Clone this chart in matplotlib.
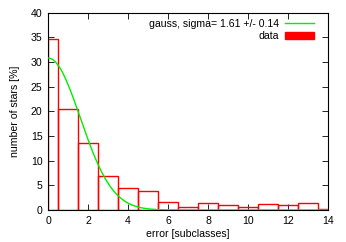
import numpy as np
import matplotlib
matplotlib.use("Agg")
import matplotlib.pyplot as plt
from matplotlib.lines import Line2D
from matplotlib.patches import Patch

# histogram of errors (bins centred on integers, width 1)
bin_centers = [0, 1, 2, 3, 4, 5, 6, 7, 8, 9, 10, 11, 12, 13, 14]
percent = [34.7, 20.5, 13.6, 6.8, 4.4, 3.8, 1.7, 0.55, 1.35, 1.1, 0.7, 1.2, 0.95, 1.35, 0.25]

# gaussian fit
gauss_amp = 30.8
gauss_sigma = 1.61
gauss_err = 0.14

x_ticks = [0, 2, 4, 6, 8, 10, 12, 14]
y_ticks = [0, 5, 10, 15, 20, 25, 30, 35, 40]

plt.rcParams['font.family'] = ['Liberation Sans', 'DejaVu Sans']
plt.rcParams['font.size'] = 7.6

fig = plt.figure(figsize=(3.46, 2.42), dpi=100)
ax = fig.add_axes([0.139, 0.132, 0.809, 0.816])

# boxes clipped to the x range
lefts = [max(c - 0.5, 0) for c in bin_centers]
rights = [min(c + 0.5, 14) for c in bin_centers]
widths = [r - l for l, r in zip(lefts, rights)]
ax.bar(lefts, percent, width=widths, align='edge', fill=False,
       edgecolor='#ff0000', linewidth=1.0, zorder=2)

xs = np.linspace(0, 14, 400)
ax.plot(xs, gauss_amp * np.exp(-xs**2 / (2 * gauss_sigma**2)),
        color='#00ee00', linewidth=1.0, zorder=3)

ax.set_xlim(0, 14)
ax.set_ylim(0, 40)
ax.set_xticks(x_ticks)
ax.set_yticks(y_ticks)
ax.tick_params(direction='in', top=True, right=True, length=4, width=0.6)
ax.tick_params(axis='x', pad=4)
ax.tick_params(axis='y', pad=4)
for s in ax.spines.values():
    s.set_linewidth(0.8)

ax.set_xlabel('error [subclasses]', labelpad=2.5)
ax.set_ylabel('number of stars [%]', labelpad=8)

handles = [Line2D([], [], color='#00ee00', linewidth=1.0),
           Patch(facecolor='#ff0000', edgecolor='#ff0000')]
labels = ['gauss, sigma= %.2f +/- %.2f' % (gauss_sigma, gauss_err), 'data']
leg = ax.legend(handles, labels, loc='upper right', frameon=False,
                markerfirst=False, handlelength=2.7, handleheight=0.6,
                handletextpad=0.6, labelspacing=0.25,
                borderaxespad=0.0, bbox_to_anchor=(0.965, 0.99))
for t in leg.get_texts():
    t.set_ha('right')

fig.savefig('out.png', dpi=100)
